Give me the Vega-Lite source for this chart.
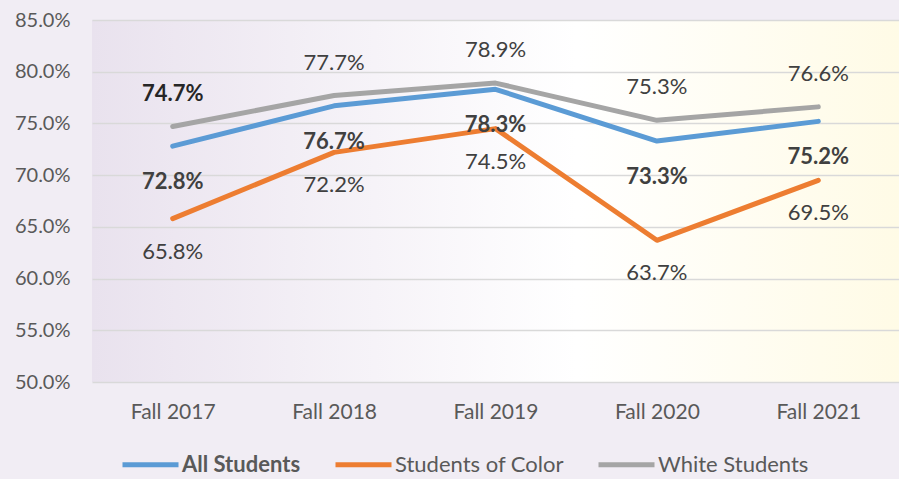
{
  "$schema": "https://vega.github.io/schema/vega-lite/v6.json",
  "width": 807,
  "height": 362,
  "autosize": {"type": "none"},
  "padding": {"left": 92, "top": 20, "right": 0, "bottom": 97},
  "background": "#f1edf4",
  "config": {
    "font": "Lato",
    "view": {
      "stroke": null,
      "fill": {"gradient": "linear", "x1": 0, "y1": 0, "x2": 1, "y2": 0,
        "stops": [
          {"offset": 0, "color": "#e9e2ee"},
          {"offset": 0.35, "color": "#f6f3f8"},
          {"offset": 0.6, "color": "#ffffff"},
          {"offset": 1, "color": "#fffbe6"}
        ]}
    }
  },
  "data": {"values": [
    {"Term": "Fall 2017", "Series": "All Students", "Rate": 0.728},
    {"Term": "Fall 2018", "Series": "All Students", "Rate": 0.767},
    {"Term": "Fall 2019", "Series": "All Students", "Rate": 0.783},
    {"Term": "Fall 2020", "Series": "All Students", "Rate": 0.733},
    {"Term": "Fall 2021", "Series": "All Students", "Rate": 0.752},
    {"Term": "Fall 2017", "Series": "Students of Color", "Rate": 0.658},
    {"Term": "Fall 2018", "Series": "Students of Color", "Rate": 0.722},
    {"Term": "Fall 2019", "Series": "Students of Color", "Rate": 0.745},
    {"Term": "Fall 2020", "Series": "Students of Color", "Rate": 0.637},
    {"Term": "Fall 2021", "Series": "Students of Color", "Rate": 0.695},
    {"Term": "Fall 2017", "Series": "White Students", "Rate": 0.747},
    {"Term": "Fall 2018", "Series": "White Students", "Rate": 0.777},
    {"Term": "Fall 2019", "Series": "White Students", "Rate": 0.789},
    {"Term": "Fall 2020", "Series": "White Students", "Rate": 0.753},
    {"Term": "Fall 2021", "Series": "White Students", "Rate": 0.766}
  ]},
  "encoding": {
    "x": {"field": "Term", "type": "ordinal", "sort": null,
      "axis": {"title": null, "domain": false, "ticks": false, "labelAngle": 0,
        "labelFont": "Lato", "labelFontSize": 21, "labelColor": "#595959", "labelPadding": 19}},
    "y": {"field": "Rate", "type": "quantitative",
      "scale": {"domain": [0.5, 0.85], "nice": false, "zero": false},
      "axis": {"title": null, "domain": false, "ticks": false, "format": ".1%",
        "values": [0.5, 0.55, 0.6, 0.65, 0.7, 0.75, 0.8, 0.85],
        "labelFont": "Lato", "labelFontSize": 20, "labelColor": "#595959", "labelPadding": 22,
        "gridColor": "#d9d9d9", "gridWidth": 1.5}}
  },
  "layer": [
    {
      "mark": {"type": "line", "strokeWidth": 5, "strokeCap": "round", "strokeJoin": "round"},
      "encoding": {
        "color": {"field": "Series", "type": "nominal",
          "scale": {"domain": ["All Students", "Students of Color", "White Students"],
            "range": ["#5b9bd5", "#ed7d31", "#a5a5a5"]},
          "legend": {"title": null, "orient": "none", "legendX": 28, "legendY": 414,
            "direction": "horizontal",
            "symbolType": "stroke", "symbolSize": 3136, "symbolStrokeWidth": 5,
            "labelFont": "Lato", "labelFontSize": 22, "labelColor": "#595959", "labelLimit": 400,
            "labelOffset": 1, "columnPadding": 24,
            "encode": {"labels": {"update": {"fontWeight": {"signal": "datum.label === 'All Students' ? 'bold' : 'normal'"}}}}}
        }
      }
    },
    {
      "transform": [{"filter": "datum.Series === 'All Students'"}],
      "mark": {"type": "text", "dy": 36, "fontSize": 22, "fontWeight": "bold", "color": "#404040", "font": "Lato"},
      "encoding": {"text": {"field": "Rate", "format": ".1%"}}
    },
    {
      "transform": [{"filter": "datum.Series === 'Students of Color'"}],
      "mark": {"type": "text", "dy": 33, "fontSize": 22, "color": "#404040", "font": "Lato"},
      "encoding": {"text": {"field": "Rate", "format": ".1%"}}
    },
    {
      "transform": [{"filter": "datum.Series === 'White Students' && datum.Term !== 'Fall 2017'"}],
      "mark": {"type": "text", "dy": -33, "fontSize": 22, "color": "#404040", "font": "Lato"},
      "encoding": {"text": {"field": "Rate", "format": ".1%"}}
    },
    {
      "transform": [{"filter": "datum.Series === 'White Students' && datum.Term === 'Fall 2017'"}],
      "mark": {"type": "text", "dy": -33, "fontSize": 22, "fontWeight": "bold", "color": "#262626", "font": "Lato"},
      "encoding": {"text": {"field": "Rate", "format": ".1%"}}
    }
  ]
}
